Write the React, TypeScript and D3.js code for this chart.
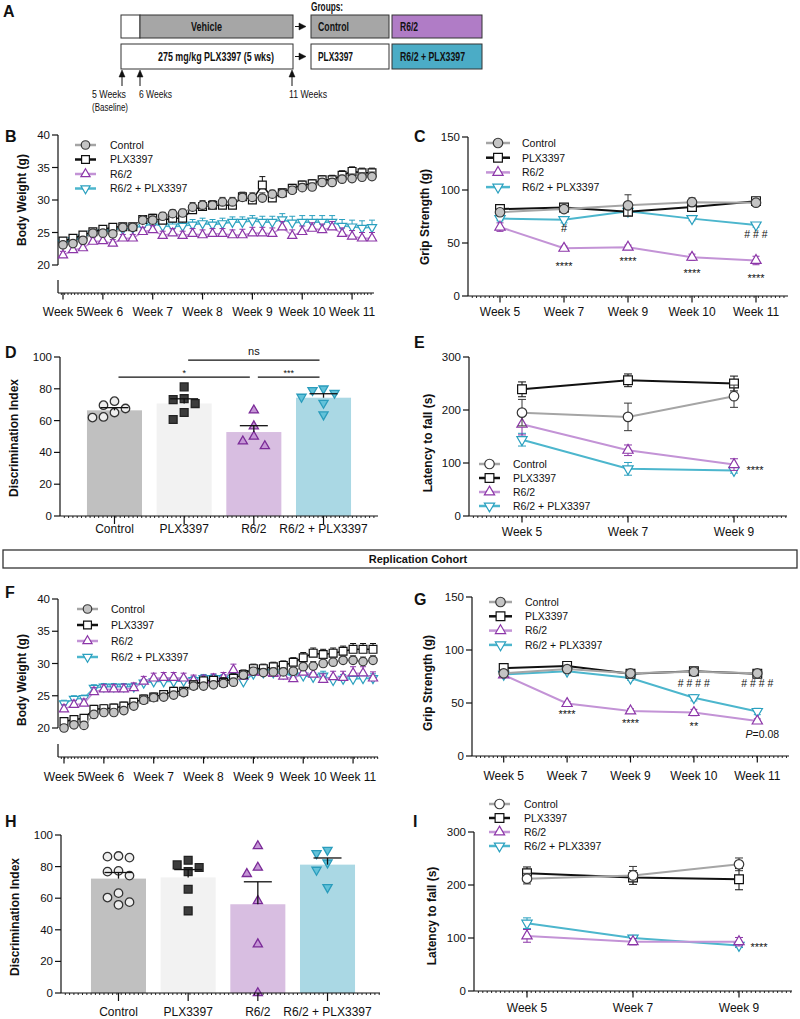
import * as d3 from 'd3';
import React from 'react';

const FONT = '"Liberation Sans", Arial, Helvetica, sans-serif';

const groups = ['Control', 'PLX3397', 'R6/2', 'R6/2 + PLX3397'];
const gripWeeks = ['Week 5', 'Week 7', 'Week 9', 'Week 10', 'Week 11'];
const rotarodWeeks = ['Week 5', 'Week 7', 'Week 9'];
const weightIdx = d3.range(32);
const weightTickIdx = [0, 4, 9, 14, 19, 24, 29];
const weightTickLabels = ['Week 5', 'Week 6', 'Week 7', 'Week 8', 'Week 9', 'Week 10', 'Week 11'];

// B - body weight (g), original cohort
const bControl = [23.1, 23.3, 23.8, 24.9, 24.9, 24.8, 25.8, 25.8, 26.9, 26.9, 27.5, 27.9, 28.0, 28.9, 29.2, 29.2, 29.7, 29.7, 30.4, 30.4, 30.3, 30.9, 31.0, 31.5, 31.9, 32.0, 32.7, 32.7, 33.2, 33.3, 33.5, 33.6];
const bPlx = [23.7, 24.1, 24.6, 25.1, 25.5, 25.8, 25.9, 25.9, 27.0, 27.2, 26.9, 27.2, 27.2, 28.5, 29.0, 29.2, 29.2, 29.2, 30.5, 30.0, 32.3, 30.3, 31.1, 31.8, 32.3, 32.5, 33.1, 33.1, 33.8, 34.4, 34.2, 34.2];
const bR62 = [21.5, 22.3, 22.6, 23.6, 23.7, 23.3, 24.1, 24.1, 25.1, 25.4, 24.5, 24.9, 24.5, 24.8, 24.6, 24.8, 24.8, 24.6, 24.6, 24.9, 24.9, 24.8, 25.8, 24.5, 25.1, 25.6, 25.4, 25.8, 24.8, 24.4, 24.1, 24.1];
const bCombo = [23.4, 23.8, 24.2, 24.8, 25.0, 25.2, 25.5, 25.7, 26.0, 26.3, 26.0, 25.9, 26.0, 26.2, 26.4, 26.2, 26.4, 26.6, 26.6, 26.8, 26.6, 26.6, 27.0, 26.5, 26.6, 26.6, 26.6, 26.6, 26.0, 25.9, 25.7, 25.8];
const bControlErr = [0.4, 0.4, 0.5, 0.5, 0.5, 0.5, 0.5, 0.5, 0.6, 0.6, 0.6, 0.6, 0.6, 0.7, 0.7, 0.7, 0.7, 0.7, 0.7, 0.7, 0.8, 0.6, 0.6, 0.6, 0.6, 0.6, 0.6, 0.6, 0.6, 0.7, 0.7, 0.7];
const bPlxErr = [0.5, 0.5, 0.5, 0.5, 0.5, 0.5, 0.5, 0.5, 0.6, 0.6, 0.6, 0.6, 0.6, 0.7, 0.7, 0.7, 0.7, 0.7, 0.7, 0.7, 1.3, 0.7, 0.6, 0.6, 0.6, 0.6, 0.6, 0.7, 0.7, 0.7, 0.7, 0.7];
const bR62Err = [0.6, 0.6, 0.6, 0.6, 0.6, 0.6, 0.6, 0.6, 0.7, 0.7, 0.7, 0.7, 0.7, 0.8, 0.8, 0.8, 0.8, 0.8, 0.9, 0.9, 0.9, 0.9, 0.9, 0.9, 0.9, 0.9, 0.9, 0.9, 0.9, 0.9, 0.9, 0.9];
const bComboErr = [0.5, 0.5, 0.5, 0.5, 0.5, 0.5, 0.6, 0.6, 0.6, 0.7, 0.7, 0.7, 0.7, 0.8, 0.8, 0.8, 0.8, 0.8, 0.8, 0.8, 0.9, 0.9, 0.9, 1.0, 1.0, 1.0, 1.0, 1.0, 1.0, 1.0, 1.1, 1.1];

// C - grip strength (g), original cohort
const cControl = [79, 82, 85.5, 88.5, 88];
const cPlx = [82, 83.5, 79.5, 84, 89.5];
const cR62 = [65, 45, 46, 36.5, 33.5];
const cCombo = [73, 72, 80, 73, 67];
const cControlErr = [3, 2, 10, 4, 3];
const cPlxErr = [3, 2, 3, 3, 3];
const cR62Err = [4, 2, 2, 3, 4];
const cComboErr = [2, 3, 3, 2, 2];

// D - discrimination index, original cohort
const dControl = [67.6, 69.7, 65.1, 72.2, 62.3, 61.9];
const dPlx = [73.8, 65.1, 81.2, 73.2, 60.7, 70.7];
const dR62 = [66.5, 56.5, 50.0, 47.0, 44.0];
const dCombo = [79.1, 74.9, 77.4, 71.1, 80.1, 63.8];

// E - latency to fall (s), original cohort
const eControl = [195, 187, 226];
const ePlx = [239, 256, 250];
const eR62 = [173, 124, 97];
const eCombo = [144, 89, 86];
const eControlErr = [25, 26, 21];
const ePlxErr = [14, 12, 14];
const eR62Err = [20, 10, 11];
const eComboErr = [12, 12, 5];

// F - body weight (g), replication cohort
const fControl = [20.0, 20.5, 20.4, 22.1, 22.4, 22.4, 22.7, 23.4, 24.3, 24.7, 24.8, 25.1, 25.5, 26.5, 26.5, 26.7, 26.9, 27.1, 28.2, 28.8, 28.6, 28.7, 28.7, 28.8, 29.5, 29.6, 30.0, 30.2, 30.5, 30.5, 30.3, 30.5];
const fPlx = [21.0, 21.3, 21.5, 22.9, 23.0, 23.1, 23.4, 24.0, 24.5, 24.8, 25.2, 25.7, 25.7, 26.7, 27.3, 27.4, 27.1, 27.7, 28.3, 29.2, 29.2, 29.5, 29.7, 30.2, 30.9, 31.6, 31.4, 31.6, 31.9, 32.2, 32.2, 32.2];
const fR62 = [22.9, 23.6, 23.8, 25.6, 26.0, 26.0, 26.0, 26.2, 27.2, 27.7, 27.8, 27.8, 27.7, 27.4, 27.4, 27.6, 27.8, 29.0, 28.0, 28.6, 28.6, 28.4, 28.0, 27.6, 28.6, 28.3, 27.5, 27.9, 27.8, 28.5, 28.5, 27.7];
const fCombo = [23.8, 24.5, 24.6, 26.2, 26.4, 26.4, 26.4, 26.4, 27.0, 27.2, 27.2, 27.2, 27.3, 27.4, 27.7, 27.7, 27.7, 27.9, 27.2, 28.4, 28.6, 28.6, 28.4, 28.1, 28.1, 27.9, 28.1, 27.4, 27.6, 27.6, 27.7, 27.7];
const fControlErr = [0.5, 0.5, 0.5, 0.5, 0.5, 0.5, 0.5, 0.5, 0.5, 0.5, 0.5, 0.5, 0.5, 0.5, 0.5, 0.5, 0.6, 0.6, 0.6, 0.6, 0.6, 0.6, 0.6, 0.6, 0.6, 0.7, 0.7, 0.7, 0.7, 0.7, 0.7, 0.7];
const fPlxErr = [0.6, 0.6, 0.6, 0.6, 0.6, 0.6, 0.6, 0.6, 0.6, 0.6, 0.6, 0.6, 0.6, 0.6, 0.6, 0.6, 0.7, 0.7, 0.7, 0.7, 0.7, 0.7, 0.7, 0.7, 0.8, 0.8, 0.8, 0.8, 0.8, 0.9, 0.9, 0.9];
const fR62Err = [0.7, 0.7, 0.7, 0.7, 0.7, 0.7, 0.8, 0.8, 0.8, 0.8, 0.8, 0.8, 0.8, 0.8, 0.8, 0.8, 0.8, 0.9, 0.9, 0.9, 0.9, 0.9, 0.9, 0.9, 0.9, 0.9, 0.9, 0.9, 1.0, 1.0, 1.0, 1.0];
const fComboErr = [0.5, 0.5, 0.5, 0.5, 0.5, 0.5, 0.5, 0.5, 0.5, 0.5, 0.6, 0.6, 0.6, 0.6, 0.6, 0.6, 0.6, 0.6, 0.6, 0.6, 0.6, 0.6, 0.6, 0.6, 0.6, 0.7, 0.7, 0.7, 0.7, 0.7, 0.7, 0.7];

// G - grip strength (g), replication cohort
const gControl = [78, 82, 78, 79.5, 78];
const gPlx = [83, 85, 77.5, 80, 77.5];
const gR62 = [76.5, 49.5, 42.5, 41, 33];
const gCombo = [77, 80, 73.5, 55, 42];
const gControlErr = [2, 3, 2, 2, 2];
const gPlxErr = [2, 2, 2, 2, 2];
const gR62Err = [2, 2, 2, 3, 2];
const gComboErr = [2, 2, 2, 3, 3];

// H - discrimination index, replication cohort
const hControl = [86.7, 86.3, 85.7, 74.3, 76.8, 77.3, 60.4, 63.2, 57.5, 55.8];
const hPlx = [81.1, 84.0, 79.4, 76.8, 65.7, 52.0];
const hR62 = [93.0, 79.4, 75.4, 58.3, 30.9, 0];
const hCombo = [90.5, 88.4, 82.5, 77.9, 66.9];

// I - latency to fall (s), replication cohort
const iControl = [212, 218, 239];
const iPlx = [222, 214, 211];
const iR62 = [104, 93, 93];
const iCombo = [128, 100, 86];
const iControlErr = [10, 17, 12];
const iPlxErr = [12, 13, 20];
const iR62Err = [12, 6, 8];
const iComboErr = [10, 5, 4];

const LINE_STYLE: any = {
  Control: { line: '#a5a5a5', stroke: '#383838', shape: 'circle' },
  PLX3397: { line: '#111111', stroke: '#111111', fill: '#ffffff', shape: 'square' },
  'R6/2': { line: '#c393d6', stroke: '#8c36a8', fill: '#ffffff', shape: 'up' },
  'R6/2 + PLX3397': { line: '#4cb6cd', stroke: '#2aa0bf', fill: '#ffffff', shape: 'down' },
};

const BAR_STYLE: any = {
  Control: { bar: '#c0c0c0', stroke: '#333333', fill: '#eeeeee', shape: 'circle' },
  PLX3397: { bar: '#f2f2f2', stroke: '#222222', fill: '#3c3c3c', shape: 'square' },
  'R6/2': { bar: '#d8bee1', stroke: '#7a2a97', fill: '#c596d6', shape: 'up' },
  'R6/2 + PLX3397': { bar: '#aad8e4', stroke: '#2a9cbc', fill: '#62c2d9', shape: 'down' },
};

function Marker({ shape, x, y, d, stroke, fill, sw = 1.2 }: any) {
  let type: any = d3.symbolCircle;
  let area = (Math.PI * d * d) / 4;
  let rot = 0;
  if (shape === 'square') {
    type = d3.symbolSquare;
    area = d * d * 0.85;
  } else if (shape === 'up' || shape === 'down') {
    type = d3.symbolTriangle;
    area = (Math.sqrt(3) / 4) * (d * 1.08) ** 2;
    if (shape === 'down') rot = 180;
  }
  const p = d3.symbol().type(type).size(area)() as string;
  return <path d={p} transform={`translate(${x},${y}) rotate(${rot})`} fill={fill} stroke={stroke} strokeWidth={sw} />;
}

function Note({ x, y, text, size = 11 }: any) {
  const star = text.includes('*');
  const base = y + (star ? 0.62 : 0.36) * size;
  if (text.startsWith('P=')) {
    return (
      <text x={x} y={base} textAnchor="middle" fontSize={size}>
        <tspan fontStyle="italic">P</tspan>
        {text.slice(1)}
      </text>
    );
  }
  return (
    <text x={x} y={base} textAnchor="middle" fontSize={size}>
      {text}
    </text>
  );
}

function LinePanel(p: any) {
  const { x, xs, y, series } = p;
  const [yMin, yMax] = y.domain();
  const line = d3
    .line<number>()
    .x((_, i) => x(xs[i]))
    .y((d) => y(d));
  const minor = d3.range(p.xRange[0] + p.minorStep, p.xRange[1], p.minorStep);
  return (
    <g>
      <text x={p.letterX} y={p.letterY} fontSize={16} fontWeight="bold">
        {p.letter}
      </text>
      <g stroke="#111" strokeWidth={1.2}>
        <line x1={p.yAxisX} x2={p.yAxisX} y1={y(yMax)} y2={p.stub ? y(yMin) : p.xAxisY} />
        {p.stub && <line x1={p.yAxisX} x2={p.yAxisX} y1={p.stub} y2={p.xAxisY} />}
        <line x1={p.xRange[0]} x2={p.xRange[1]} y1={p.xAxisY} y2={p.xAxisY} />
        {p.yTicks.map((t: number) => (
          <line key={t} x1={p.yAxisX - 6} x2={p.yAxisX} y1={y(t)} y2={y(t)} />
        ))}
        {minor.map((m: number) => (
          <line key={m} x1={m} x2={m} y1={p.xAxisY} y2={p.xAxisY + 2} strokeWidth={0.9} />
        ))}
        {p.xTicks.map((t: any) => (
          <line key={t.label} x1={x(t.v)} x2={x(t.v)} y1={p.xAxisY} y2={p.xAxisY + 6.5} />
        ))}
      </g>
      {p.yTicks.map((t: number) => (
        <text key={t} x={p.yAxisX - 8} y={y(t) + 4} textAnchor="end" fontSize={11.5}>
          {t}
        </text>
      ))}
      {p.xTicks.map((t: any) => (
        <text key={t.label} x={x(t.v)} y={p.labelY} textAnchor="middle" fontSize={12}>
          {t.label}
        </text>
      ))}
      <text
        transform={`translate(${p.titleX},${p.titleY}) rotate(-90)`}
        textAnchor="middle"
        fontSize={12}
        fontWeight="bold"
        dominantBaseline="central"
      >
        {p.title}
      </text>
      {p.order.map((gi: number) => {
        const s = series[gi];
        const st = LINE_STYLE[groups[gi]];
        const fill = gi === 0 ? p.ctrlFill : st.fill;
        return (
          <g key={gi}>
            <g stroke={st.stroke} strokeWidth={1}>
              {s.values.map((v: number, i: number) => {
                const cx = x(xs[i]);
                const top = y(v + s.errs[i]);
                const bot = p.errBoth ? y(v - s.errs[i]) : y(v);
                return (
                  <g key={i}>
                    <line x1={cx} x2={cx} y1={top} y2={bot} />
                    <line x1={cx - p.cap / 2} x2={cx + p.cap / 2} y1={top} y2={top} />
                    {p.errBoth && <line x1={cx - p.cap / 2} x2={cx + p.cap / 2} y1={bot} y2={bot} />}
                  </g>
                );
              })}
            </g>
            <path d={line(s.values) as string} fill="none" stroke={st.line} strokeWidth={p.lineW} />
            {s.values.map((v: number, i: number) => (
              <Marker key={i} shape={st.shape} x={x(xs[i])} y={y(v)} d={p.mSize} stroke={st.stroke} fill={fill} />
            ))}
          </g>
        );
      })}
      {groups.map((g, gi) => {
        const st = LINE_STYLE[g];
        const ly = p.legend.y + gi * p.legend.dy;
        const mx = p.legend.x + p.legend.lw / 2;
        return (
          <g key={g}>
            <line x1={p.legend.x} x2={p.legend.x + p.legend.lw} y1={ly} y2={ly} stroke={st.line} strokeWidth={2.5} />
            <Marker shape={st.shape} x={mx} y={ly} d={p.mSize} stroke={st.stroke} fill={gi === 0 ? p.ctrlFill : st.fill} />
            <text x={p.legend.tx} y={ly + 3.8} fontSize={10.5}>
              {g}
            </text>
          </g>
        );
      })}
      {p.notes.map((n: any, i: number) => (
        <Note key={i} x={x(n.at) + (n.dx || 0)} y={y(n.v)} text={n.text} size={n.size} />
      ))}
    </g>
  );
}

// simple column swarm so overlapping points spread sideways
function swarm(values: number[], y: any, d: number, step: number) {
  const placed: { o: number; py: number }[] = [];
  const out: number[] = new Array(values.length).fill(0);
  const order = values.map((_, i) => i).sort((a, b) => values[b] - values[a]);
  order.forEach((i) => {
    const py = y(values[i]);
    for (let k = 0; k < 12; k++) {
      const o = k === 0 ? 0 : (k % 2 ? -1 : 1) * Math.ceil(k / 2) * step;
      if (placed.every((q) => Math.hypot(q.o - o, q.py - py) >= d)) {
        placed.push({ o, py });
        out[i] = o;
        break;
      }
    }
  });
  return out;
}

function BarPanel(p: any) {
  const { band, y, data } = p;
  const bw = band.bandwidth();
  const minor = d3.range(p.xRange[0] + p.minorStep, p.xRange[1], p.minorStep);
  return (
    <g>
      <text x={p.letterX} y={p.letterY} fontSize={16} fontWeight="bold">
        {p.letter}
      </text>
      {groups.map((g, gi) => {
        const vals = data[gi];
        const m = d3.mean(vals) as number;
        const sem = (d3.deviation(vals) as number) / Math.sqrt(vals.length);
        const st = BAR_STYLE[g];
        const cx = (band(g) as number) + bw / 2;
        const offs = swarm(vals, y, p.mSize + 1.5, p.step);
        return (
          <g key={g}>
            <rect x={band(g)} y={y(m)} width={bw} height={y(0) - y(m)} fill={st.bar} />
            {vals.map((v: number, i: number) => (
              <Marker key={i} shape={st.shape} x={cx + offs[i]} y={y(v)} d={p.mSize} stroke={st.stroke} fill={st.fill} sw={1.3} />
            ))}
            <g stroke="#111" strokeWidth={1.3}>
              <line x1={cx} x2={cx} y1={y(m)} y2={y(m + sem)} />
              <line x1={cx - 14} x2={cx + 14} y1={y(m + sem)} y2={y(m + sem)} />
            </g>
          </g>
        );
      })}
      <g stroke="#111" strokeWidth={1.2}>
        <line x1={p.yAxisX} x2={p.yAxisX} y1={y(100)} y2={y(0)} />
        <line x1={p.xRange[0]} x2={p.xRange[1]} y1={y(0)} y2={y(0)} />
        {p.yTicks.map((t: number) => (
          <line key={t} x1={p.yAxisX - 6} x2={p.yAxisX} y1={y(t)} y2={y(t)} />
        ))}
        {minor.map((m: number) => (
          <line key={m} x1={m} x2={m} y1={y(0)} y2={y(0) + 2} strokeWidth={0.9} />
        ))}
        {groups.map((g) => (
          <line key={g} x1={(band(g) as number) + bw / 2} x2={(band(g) as number) + bw / 2} y1={y(0)} y2={y(0) + 8} />
        ))}
      </g>
      {p.yTicks.map((t: number) => (
        <text key={t} x={p.yAxisX - 8} y={y(t) + 4} textAnchor="end" fontSize={11.5}>
          {t}
        </text>
      ))}
      {groups.map((g) => (
        <text key={g} x={(band(g) as number) + bw / 2} y={p.labelY} textAnchor="middle" fontSize={12}>
          {g}
        </text>
      ))}
      <text
        transform={`translate(${p.titleX},${p.titleY}) rotate(-90)`}
        textAnchor="middle"
        fontSize={12}
        fontWeight="bold"
        dominantBaseline="central"
      >
        Discrimination Index
      </text>
      {p.sig.map((s: any, i: number) => {
        const x1 = (band(groups[s.from]) as number) + bw / 2 + 4;
        const x2 = (band(groups[s.to]) as number) + bw / 2 - 4;
        return (
          <g key={i}>
            <line x1={x1} x2={x2} y1={y(s.v)} y2={y(s.v)} stroke="#111" strokeWidth={1.2} />
            <text x={(x1 + x2) / 2} y={y(s.v) - (s.text === 'ns' ? 5 : 1)} textAnchor="middle" fontSize={s.text === 'ns' ? 11 : 9}>
              {s.text}
            </text>
          </g>
        );
      })}
    </g>
  );
}

function Timeline() {
  const boxT = { fontSize: 12, fontWeight: 'bold' as const, lengthAdjust: 'spacingAndGlyphs' as const };
  const wkT = { fontSize: 11.5, lengthAdjust: 'spacingAndGlyphs' as const };
  const upArrows = [122, 140, 292];
  return (
    <g>
      <text x={3} y={17} fontSize={16} fontWeight="bold">
        A
      </text>
      <g stroke="#333" strokeWidth={1}>
        <rect x={121} y={15} width={19} height={23} fill="#fff" />
        <rect x={140} y={15} width={153} height={23} fill="#a6a6a6" />
        <rect x={121} y={44} width={172} height={25} fill="#fff" />
        <rect x={311} y={15} width={78} height={23} fill="#a6a6a6" />
        <rect x={392} y={15} width={90} height={23} fill="#b07cc6" />
        <rect x={311} y={44} width={78} height={25} fill="#fff" />
        <rect x={392} y={44} width={90} height={25} fill="#4bacc6" />
      </g>
      {[26.5, 56.5].map((ay) => (
        <g key={ay} fill="#111" stroke="#111">
          <line x1={295} x2={301} y1={ay} y2={ay} strokeWidth={1} />
          <path d={`M306,${ay}L299,${ay - 3.5}L299,${ay + 3.5}Z`} strokeWidth={0.5} />
        </g>
      ))}
      {upArrows.map((ax) => (
        <g key={ax} fill="#111" stroke="#111">
          <line x1={ax} x2={ax} y1={76} y2={86} strokeWidth={1} />
          <path d={`M${ax},70L${ax - 3},77L${ax + 3},77Z`} strokeWidth={0.5} />
        </g>
      ))}
      <text x={311} y={11} {...boxT} textLength={32}>
        Groups:
      </text>
      <text x={191} y={31} {...boxT} textLength={31}>
        Vehicle
      </text>
      <text x={318} y={31} {...boxT} textLength={31}>
        Control
      </text>
      <text x={400} y={31} {...boxT} textLength={18}>
        R6/2
      </text>
      <text x={158} y={61} {...boxT} textLength={116}>
        275 mg/kg PLX3397 (5 wks)
      </text>
      <text x={318} y={61} {...boxT} textLength={35}>
        PLX3397
      </text>
      <text x={400} y={61} {...boxT} textLength={65}>
        R6/2 + PLX3397
      </text>
      <text x={92} y={98} {...wkT} textLength={34}>
        5 Weeks
      </text>
      <text x={92} y={111} {...wkT} textLength={36}>
        (Baseline)
      </text>
      <text x={139} y={98} {...wkT} textLength={33}>
        6 Weeks
      </text>
      <text x={289} y={98} {...wkT} textLength={38}>
        11 Weeks
      </text>
    </g>
  );
}

export default function App() {
  const xB = d3.scaleLinear().domain([0, 31]).range([63, 372]);
  const yB = d3.scaleLinear().domain([20, 40]).range([265, 135]);
  const xF = d3.scaleLinear().domain([0, 31]).range([64, 373]);
  const yF = d3.scaleLinear().domain([20, 40]).range([728, 599]);
  const xC = d3.scalePoint().domain(gripWeeks).range([468, 788]).padding(0.5);
  const yC = d3.scaleLinear().domain([0, 150]).range([296, 137]);
  const xG = d3.scalePoint().domain(gripWeeks).range([472, 789]).padding(0.5);
  const yG = d3.scaleLinear().domain([0, 150]).range([756, 597]);
  const xE = d3.scalePoint().domain(rotarodWeeks).range([469, 787]).padding(0.5);
  const yE = d3.scaleLinear().domain([0, 300]).range([516, 357]);
  const xI = d3.scalePoint().domain(rotarodWeeks).range([474, 792]).padding(0.5);
  const yI = d3.scaleLinear().domain([0, 300]).range([991, 832]);
  const bandD = d3.scaleBand().domain(groups).range([80, 358]).paddingInner(0.21).paddingOuter(0.1);
  const yD = d3.scaleLinear().domain([0, 100]).range([516, 357]);
  const bandH = d3.scaleBand().domain(groups).range([84, 362]).paddingInner(0.21).paddingOuter(0.1);
  const yH = d3.scaleLinear().domain([0, 100]).range([993, 835]);

  const weightTicks = weightTickIdx.map((v, i) => ({ v, label: weightTickLabels[i] }));
  const gripTicks = gripWeeks.map((w) => ({ v: w, label: w }));
  const rotTicks = rotarodWeeks.map((w) => ({ v: w, label: w }));
  const mk = (values: number[], errs: number[]) => ({ values, errs });

  return (
    <svg
      width={800}
      height={1019}
      style={{ position: 'absolute', left: 0, top: 0, background: '#fff' }}
      fontFamily={FONT}
      fill="#111"
    >
      <Timeline />
      <LinePanel
        letter="B" letterX={5} letterY={142}
        x={xB} xs={weightIdx} y={yB}
        series={[mk(bControl, bControlErr), mk(bPlx, bPlxErr), mk(bR62, bR62Err), mk(bCombo, bComboErr)]}
        order={[3, 2, 1, 0]} errBoth={false} cap={6} mSize={8.5} lineW={1.6} ctrlFill="#c4c4c4"
        yAxisX={58} stub={280} xAxisY={293} xRange={[58, 374]} minorStep={3.33}
        yTicks={[20, 25, 30, 35, 40]} xTicks={weightTicks} labelY={316}
        title="Body Weight (g)" titleX={22} titleY={200}
        legend={{ x: 75, lw: 21, tx: 110, y: 145, dy: 14.5 }}
        notes={[]}
      />
      <LinePanel
        letter="C" letterX={414} letterY={142}
        x={xC} xs={gripWeeks} y={yC}
        series={[mk(cControl, cControlErr), mk(cPlx, cPlxErr), mk(cR62, cR62Err), mk(cCombo, cComboErr)]}
        order={[3, 2, 1, 0]} errBoth={true} cap={7} mSize={9.5} lineW={2} ctrlFill="#c4c4c4"
        yAxisX={468} xAxisY={296} xRange={[468, 788]} minorStep={4.27}
        yTicks={[0, 50, 100, 150]} xTicks={gripTicks} labelY={316}
        title="Grip Strength (g)" titleX={425} titleY={217}
        legend={{ x: 486, lw: 24, tx: 522, y: 143, dy: 14.7 }}
        notes={[
          { at: 'Week 7', v: 64, text: '#', size: 11 },
          { at: 'Week 11', v: 58.5, text: '# # #', size: 10.5 },
          { at: 'Week 7', v: 31, text: '****', size: 11 },
          { at: 'Week 9', v: 35.8, text: '****', size: 11 },
          { at: 'Week 10', v: 24.5, text: '****', size: 11 },
          { at: 'Week 11', v: 19.8, text: '****', size: 11 },
        ]}
      />
      <BarPanel
        letter="D" letterX={5} letterY={358}
        band={bandD} y={yD} data={[dControl, dPlx, dR62, dCombo]}
        mSize={8.5} step={11} yAxisX={60} xRange={[60, 378]} minorStep={4.3}
        yTicks={[0, 20, 40, 60, 80, 100]} labelY={533} titleX={14} titleY={438}
        sig={[
          { from: 1, to: 3, v: 98, text: 'ns' },
          { from: 0, to: 2, v: 87.4, text: '*' },
          { from: 2, to: 3, v: 87.4, text: '***' },
        ]}
      />
      <LinePanel
        letter="E" letterX={414} letterY={348}
        x={xE} xs={rotarodWeeks} y={yE}
        series={[mk(eControl, eControlErr), mk(ePlx, ePlxErr), mk(eR62, eR62Err), mk(eCombo, eComboErr)]}
        order={[3, 2, 1, 0]} errBoth={true} cap={8} mSize={9.5} lineW={2} ctrlFill="#ffffff"
        yAxisX={469} xAxisY={516} xRange={[469, 787]} minorStep={4.4}
        yTicks={[0, 100, 200, 300]} xTicks={rotTicks} labelY={536}
        title="Latency to fall (s)" titleX={428} titleY={443}
        legend={{ x: 479, lw: 21, tx: 513, y: 464, dy: 14 }}
        notes={[{ at: 'Week 9', dx: 21, v: 92.5, text: '****', size: 11 }]}
      />
      <g>
        <rect x={3} y={550} width={794} height={18} fill="none" stroke="#333" strokeWidth={1.3} />
        <text x={418} y={563} textAnchor="middle" fontSize={11} fontWeight="bold">
          Replication Cohort
        </text>
      </g>
      <LinePanel
        letter="F" letterX={5} letterY={598}
        x={xF} xs={weightIdx} y={yF}
        series={[mk(fControl, fControlErr), mk(fPlx, fPlxErr), mk(fR62, fR62Err), mk(fCombo, fComboErr)]}
        order={[3, 2, 1, 0]} errBoth={false} cap={6} mSize={8.5} lineW={1.6} ctrlFill="#c4c4c4"
        yAxisX={58} stub={744} xAxisY={757} xRange={[58, 378]} minorStep={3.33}
        yTicks={[20, 25, 30, 35, 40]} xTicks={weightTicks} labelY={781}
        title="Body Weight (g)" titleX={22} titleY={680}
        legend={{ x: 77, lw: 21, tx: 111, y: 609, dy: 16 }}
        notes={[]}
      />
      <LinePanel
        letter="G" letterX={414} letterY={605}
        x={xG} xs={gripWeeks} y={yG}
        series={[mk(gControl, gControlErr), mk(gPlx, gPlxErr), mk(gR62, gR62Err), mk(gCombo, gComboErr)]}
        order={[3, 2, 1, 0]} errBoth={true} cap={7} mSize={9.5} lineW={2} ctrlFill="#c4c4c4"
        yAxisX={472} xAxisY={756} xRange={[472, 789]} minorStep={4.25}
        yTicks={[0, 50, 100, 150]} xTicks={gripTicks} labelY={780}
        title="Grip Strength (g)" titleX={428} titleY={683}
        legend={{ x: 489, lw: 23, tx: 525, y: 602, dy: 14.3 }}
        notes={[
          { at: 'Week 10', v: 68.9, text: '# # # #', size: 10.5 },
          { at: 'Week 11', v: 68.9, text: '# # # #', size: 10.5 },
          { at: 'Week 7', v: 42.5, text: '****', size: 11 },
          { at: 'Week 9', v: 34, text: '****', size: 11 },
          { at: 'Week 10', v: 31, text: '**', size: 11 },
          { at: 'Week 11', dx: 5, v: 20.8, text: 'P=0.08', size: 10.5 },
        ]}
      />
      <BarPanel
        letter="H" letterX={5} letterY={827}
        band={bandH} y={yH} data={[hControl, hPlx, hR62, hCombo]}
        mSize={8.5} step={11} yAxisX={61} xRange={[61, 380]} minorStep={4.3}
        yTicks={[0, 20, 40, 60, 80, 100]} labelY={1016} titleX={15} titleY={917}
        sig={[]}
      />
      <LinePanel
        letter="I" letterX={413} letterY={827}
        x={xI} xs={rotarodWeeks} y={yI}
        series={[mk(iControl, iControlErr), mk(iPlx, iPlxErr), mk(iR62, iR62Err), mk(iCombo, iComboErr)]}
        order={[3, 2, 1, 0]} errBoth={true} cap={8} mSize={9.5} lineW={2} ctrlFill="#ffffff"
        yAxisX={474} xAxisY={991} xRange={[474, 792]} minorStep={4.4}
        yTicks={[0, 100, 200, 300]} xTicks={rotTicks} labelY={1012}
        title="Latency to fall (s)" titleX={432} titleY={916}
        legend={{ x: 489, lw: 21, tx: 524, y: 804, dy: 14 }}
        notes={[{ at: 'Week 9', dx: 20, v: 88.7, text: '****', size: 11 }]}
      />
    </svg>
  );
}
